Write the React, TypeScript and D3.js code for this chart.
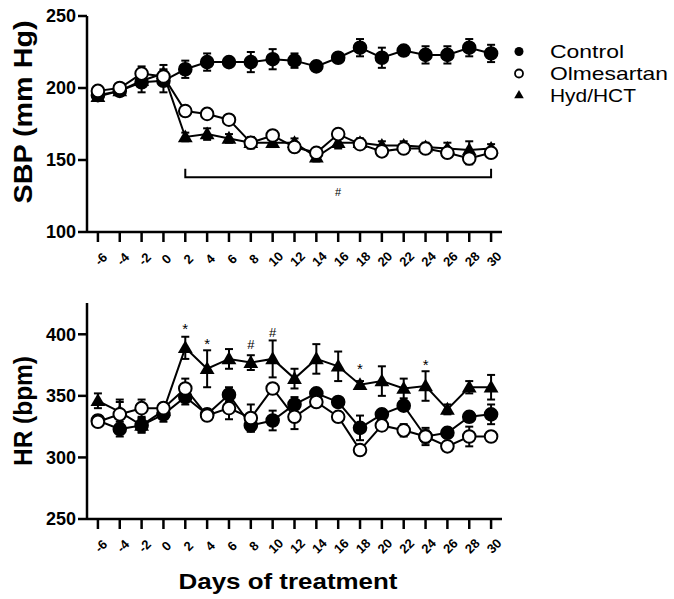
import React from "react";
import * as d3 from "d3";

// days of treatment
const days = [-6, -4, -2, 0, 2, 4, 6, 8, 10, 12, 14, 16, 18, 20, 22, 24, 26, 28, 30];

// systolic blood pressure (mm Hg)
const sbpControl = [195, 198, 204, 205, 213, 218, 218, 218, 220, 219, 215, 221, 228, 221, 226, 223, 223, 228, 224];
const sbpControlErr = [3, 3, 7, 8, 6, 6, 3, 7, 7, 5, 2, 3, 6, 7, 3, 6, 6, 6, 6];
const sbpOlme = [198, 200, 210, 208, 184, 182, 178, 162, 167, 159, 155, 168, 161, 156, 158, 158, 155, 151, 155];
const sbpOlmeErr = [3, 2, 5, 4, 3, 2, 2, 4, 3, 3, 3, 3, 2, 3, 2, 2, 3, 4, 2];
const sbpHyd = [194, 198, 205, 210, 166, 168, 165, 162, 162, 162, 152, 162, 162, 160, 160, 159, 158, 157, 158];
const sbpHydErr = [3, 3, 4, 6, 3, 4, 3, 3, 3, 3, 3, 4, 3, 3, 3, 3, 4, 6, 3];

// heart rate (bpm)
const hrControl = [330, 323, 326, 335, 349, 335, 351, 326, 330, 343, 352, 345, 324, 335, 342, 317, 320, 333, 335];
const hrControlErr = [4, 6, 5, 6, 6, 4, 6, 5, 8, 6, 3, 3, 10, 4, 4, 5, 4, 4, 8];
const hrOlme = [329, 335, 340, 340, 356, 334, 340, 332, 356, 333, 345, 333, 306, 326, 322, 317, 309, 317, 317];
const hrOlmeErr = [3, 10, 7, 4, 8, 3, 9, 11, 3, 10, 3, 4, 3, 4, 5, 7, 3, 8, 3];
const hrHyd = [346, 337, 326, 338, 389, 372, 380, 377, 380, 364, 380, 374, 359, 362, 356, 358, 339, 357, 357];
const hrHydErr = [6, 10, 6, 6, 9, 15, 8, 6, 15, 8, 12, 12, 3, 12, 8, 12, 4, 5, 10];

// significance marks on the HR panel
const hrMarks = [
  { day: 2, label: "*", value: 400 },
  { day: 4, label: "*", value: 388 },
  { day: 8, label: "#", value: 388 },
  { day: 10, label: "#", value: 398 },
  { day: 18, label: "*", value: 368 },
  { day: 24, label: "*", value: 371 },
];

const legendItems = ["Control", "Olmesartan", "Hyd/HCT"];
const legendWidths = [74, 118, 86];
const xTicks = days;

const font = "Arial, 'Liberation Sans', Helvetica, sans-serif";

const x = d3.scaleLinear().domain([-7, 31]).range([87, 502]);
const tri = d3.symbol().type(d3.symbolTriangle).size(95);

type Series = { vals: number[]; err: number[]; kind: "filled" | "open" | "tri" };

const Panel = ({ y, series, yTicks, top, bottom, title, titleY, titleLen }: any) => {
  const line = d3
    .line<number>()
    .x((_, i) => x(days[i]))
    .y((v) => y(v));
  return (
    <g>
      {/* series lines + error bars */}
      {series.map((s: Series, si: number) => (
        <g key={si}>
          <path d={line(s.vals) || ""} fill="none" stroke="#000" strokeWidth={2} />
          {s.vals.map((v, i) => (
            <g key={i} stroke="#000" strokeWidth={2}>
              <line x1={x(days[i])} x2={x(days[i])} y1={y(v - s.err[i])} y2={y(v + s.err[i])} />
              <line x1={x(days[i]) - 4} x2={x(days[i]) + 4} y1={y(v + s.err[i])} y2={y(v + s.err[i])} />
              <line x1={x(days[i]) - 4} x2={x(days[i]) + 4} y1={y(v - s.err[i])} y2={y(v - s.err[i])} />
            </g>
          ))}
        </g>
      ))}
      {/* markers */}
      {series.map((s: Series, si: number) => (
        <g key={"m" + si}>
          {s.vals.map((v, i) =>
            s.kind === "tri" ? (
              <path key={i} d={tri() || ""} transform={`translate(${x(days[i])},${y(v) + 1})`} fill="#000" />
            ) : (
              <circle
                key={i}
                cx={x(days[i])}
                cy={y(v)}
                r={6.3}
                fill={s.kind === "filled" ? "#000" : "#fff"}
                stroke="#000"
                strokeWidth={2}
              />
            )
          )}
        </g>
      ))}
      {/* axes */}
      <line x1={x.range()[0]} x2={x.range()[0]} y1={top} y2={bottom} stroke="#000" strokeWidth={2.5} />
      <line x1={x.range()[0]} x2={x.range()[1]} y1={bottom} y2={bottom} stroke="#000" strokeWidth={2.5} />
      {yTicks.map((t: number) => (
        <g key={t}>
          <line x1={x.range()[0] - 9} x2={x.range()[0]} y1={y(t)} y2={y(t)} stroke="#000" strokeWidth={2.5} />
          <text x={x.range()[0] - 11} y={y(t)} dy="0.36em" textAnchor="end" fontFamily={font} fontWeight="bold" fontSize={18}>
            {t}
          </text>
        </g>
      ))}
      {xTicks.map((t) => (
        <g key={t}>
          <line x1={x(t)} x2={x(t)} y1={bottom} y2={bottom + 10} stroke="#000" strokeWidth={2.5} />
          <text
            transform={`translate(${x(t) + 3},${bottom + 27}) rotate(-45)`}
            textAnchor="middle"
            dy="0.35em"
            fontFamily={font}
            fontWeight="bold"
            fontSize={13}
          >
            {t}
          </text>
        </g>
      ))}
      <text
        transform={`translate(32,${titleY}) rotate(-90)`}
        textAnchor="middle"
        fontFamily={font}
        fontWeight="bold"
        fontSize={26}
        textLength={titleLen}
        lengthAdjust="spacingAndGlyphs"
      >
        {title}
      </text>
    </g>
  );
};

const App = () => {
  const ySbp = d3.scaleLinear().domain([100, 250]).range([232, 16]);
  const yHr = d3.scaleLinear().domain([250, 425]).range([519, 303.5]);

  const sbpSeries: Series[] = [
    { vals: sbpHyd, err: sbpHydErr, kind: "tri" },
    { vals: sbpControl, err: sbpControlErr, kind: "filled" },
    { vals: sbpOlme, err: sbpOlmeErr, kind: "open" },
  ];
  const hrSeries: Series[] = [
    { vals: hrHyd, err: hrHydErr, kind: "tri" },
    { vals: hrControl, err: hrControlErr, kind: "filled" },
    { vals: hrOlme, err: hrOlmeErr, kind: "open" },
  ];

  return (
    <svg width={674} height={599} style={{ display: "block", position: "absolute", left: 0, top: 0 }}>
      <rect width={674} height={599} fill="#fff" />
      <Panel y={ySbp} series={sbpSeries} yTicks={[100, 150, 200, 250]} top={16} bottom={232} title="SBP (mm Hg)" titleY={112} titleLen={183} />
      <Panel y={yHr} series={hrSeries} yTicks={[250, 300, 350, 400]} top={303} bottom={519} title="HR (bpm)" titleY={411} titleLen={110} />

      {/* bracket: significance from day 2 to day 30 */}
      <path
        d={`M${x(2)},${ySbp(144)} V${ySbp(138)} H${x(30)} V${ySbp(144)}`}
        fill="none"
        stroke="#000"
        strokeWidth={2}
      />
      <text x={x(16)} y={ySbp(138) + 19} textAnchor="middle" fontFamily={font} fontSize={11}>
        #
      </text>

      {hrMarks.map((m, i) => (
        <text key={i} x={x(m.day)} y={yHr(m.value)} textAnchor="middle" fontFamily={font} fontSize={m.label === "*" ? 15 : 13}>
          {m.label}
        </text>
      ))}

      {/* legend */}
      {legendItems.map((name, i) => (
        <g key={name} transform={`translate(519,${51.5 + i * 22})`}>
          {i === 0 && <circle r={4.5} fill="#000" />}
          {i === 1 && <circle r={4} fill="#fff" stroke="#000" strokeWidth={1.8} />}
          {i === 2 && <path d={d3.symbol().type(d3.symbolTriangle).size(40)() || ""} fill="#000" />}
          <text
            x={31}
            dy="0.36em"
            fontFamily={font}
            fontSize={19}
            textLength={legendWidths[i]}
            lengthAdjust="spacingAndGlyphs"
          >
            {name}
          </text>
        </g>
      ))}

      <text
        x={288}
        y={589}
        textAnchor="middle"
        fontFamily={font}
        fontWeight="bold"
        fontSize={22}
        textLength={219}
        lengthAdjust="spacingAndGlyphs"
      >
        Days of treatment
      </text>
    </svg>
  );
};

export default App;
